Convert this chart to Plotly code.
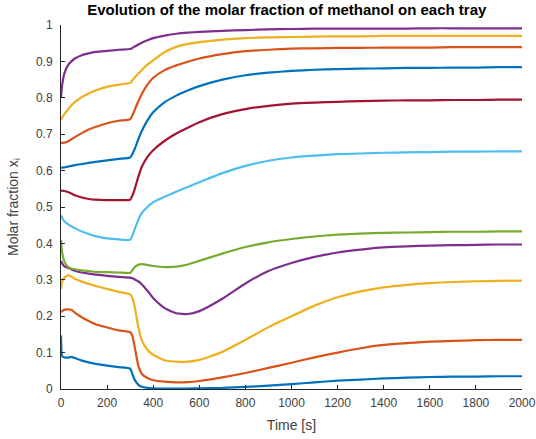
import plotly.graph_objects as go

times = [0, 5, 15, 30, 45, 60, 90, 120, 150, 200, 250, 300, 310, 320, 335, 350, 375, 400, 450, 500,
         550, 600, 700, 800, 900, 1000, 1100, 1200, 1300, 1400, 1500, 1600, 1700, 1800, 1900, 2000]

tray1 = [0.147, 0.09, 0.087, 0.086, 0.088, 0.085, 0.078, 0.073, 0.069, 0.064, 0.06, 0.056, 0.04, 0.025, 0.012,
         0.006, 0.003, 0.002, 0.001, 0.001, 0.001, 0.002, 0.003, 0.006, 0.009, 0.0135,
         0.018, 0.023, 0.026, 0.029, 0.031, 0.033, 0.034, 0.034, 0.035, 0.035]
tray2 = [0.211, 0.214, 0.218, 0.219, 0.218, 0.21, 0.197, 0.187, 0.178, 0.169, 0.161, 0.156, 0.145, 0.115, 0.065,
         0.042, 0.03, 0.024, 0.02, 0.018, 0.019, 0.022, 0.032, 0.044, 0.058, 0.072,
         0.087, 0.1, 0.112, 0.121, 0.126, 0.13, 0.132, 0.134, 0.135, 0.135]
tray3 = [0.275, 0.295, 0.306, 0.312, 0.309, 0.303, 0.295, 0.289, 0.283, 0.275, 0.267, 0.26, 0.25, 0.225, 0.172,
         0.135, 0.108, 0.094, 0.079, 0.075, 0.075, 0.08, 0.102, 0.135, 0.17, 0.2,
         0.229, 0.252, 0.268, 0.279, 0.286, 0.291, 0.294, 0.296, 0.297, 0.298]
tray4 = [0.352, 0.345, 0.337, 0.333, 0.329, 0.325, 0.32, 0.317, 0.314, 0.311, 0.308, 0.306, 0.304, 0.301, 0.296,
         0.288, 0.27, 0.25, 0.222, 0.208, 0.206, 0.214, 0.248, 0.29, 0.324, 0.346,
         0.363, 0.375, 0.383, 0.389, 0.392, 0.394, 0.395, 0.396, 0.397, 0.397]
tray5 = [0.41, 0.375, 0.35, 0.336, 0.331, 0.329, 0.326, 0.324, 0.322, 0.321, 0.32, 0.319, 0.327, 0.335, 0.341,
         0.343, 0.341, 0.338, 0.335, 0.336, 0.342, 0.352, 0.372, 0.39, 0.403, 0.412,
         0.419, 0.424, 0.427, 0.429, 0.43, 0.431, 0.432, 0.432, 0.433, 0.433]
tray6 = [0.477, 0.47, 0.461, 0.453, 0.447, 0.442, 0.433, 0.426, 0.42, 0.414, 0.411, 0.41, 0.422, 0.44, 0.464,
         0.483, 0.5, 0.513, 0.528, 0.542, 0.555, 0.568, 0.593, 0.613, 0.627, 0.636,
         0.641, 0.645, 0.647, 0.649, 0.65, 0.651, 0.652, 0.652, 0.653, 0.653]
tray7 = [0.545, 0.545, 0.544, 0.541, 0.537, 0.532, 0.526, 0.522, 0.52, 0.519, 0.519, 0.52, 0.532, 0.55, 0.582,
         0.61, 0.638, 0.656, 0.682, 0.702, 0.718, 0.733, 0.755, 0.769, 0.778, 0.784,
         0.787, 0.789, 0.791, 0.792, 0.793, 0.793, 0.794, 0.794, 0.795, 0.795]
tray8 = [0.607, 0.608, 0.609, 0.611, 0.613, 0.615, 0.618, 0.621, 0.624, 0.628, 0.632, 0.636, 0.646, 0.66, 0.685,
         0.708, 0.738, 0.76, 0.788, 0.806, 0.82, 0.832, 0.85, 0.862, 0.869, 0.874,
         0.877, 0.879, 0.88, 0.881, 0.882, 0.882, 0.883, 0.883, 0.884, 0.884]
tray9 = [0.675, 0.676, 0.677, 0.68, 0.686, 0.692, 0.703, 0.713, 0.72, 0.73, 0.737, 0.741, 0.752, 0.767, 0.79,
         0.81, 0.836, 0.855, 0.876, 0.889, 0.899, 0.908, 0.92, 0.928, 0.932, 0.935,
         0.936, 0.937, 0.937, 0.938, 0.938, 0.938, 0.939, 0.939, 0.939, 0.939]
tray10 = [0.739, 0.745, 0.755, 0.768, 0.779, 0.788, 0.802, 0.812, 0.82, 0.83, 0.836, 0.841, 0.848, 0.856, 0.866,
          0.876, 0.891, 0.903, 0.926, 0.94, 0.948, 0.953, 0.96, 0.964, 0.966, 0.967,
          0.968, 0.969, 0.969, 0.97, 0.97, 0.97, 0.97, 0.97, 0.97, 0.97]
tray11 = [0.80, 0.835, 0.868, 0.889, 0.90, 0.908, 0.917, 0.922, 0.926, 0.929, 0.932, 0.934, 0.937, 0.941, 0.946,
          0.951, 0.958, 0.964, 0.971, 0.976, 0.979, 0.981, 0.984, 0.986, 0.988, 0.989,
          0.99, 0.99, 0.99, 0.99, 0.99, 0.991, 0.991, 0.991, 0.991, 0.991]

series = [tray1, tray2, tray3, tray4, tray5, tray6, tray7, tray8, tray9, tray10, tray11]
colors = ["#0072BD", "#D95319", "#EDB120", "#7E2F8E", "#77AC30", "#4DBEEE", "#A2142F"]

xticks = list(range(0, 2001, 200))
yticks = [0, 0.1, 0.2, 0.3, 0.4, 0.5, 0.6, 0.7, 0.8, 0.9, 1]
yticklabels = ["0", "0.1", "0.2", "0.3", "0.4", "0.5", "0.6", "0.7", "0.8", "0.9", "1"]

fig = go.Figure()
for i, s in enumerate(series):
    fig.add_trace(go.Scatter(x=times, y=s, mode="lines",
                             line=dict(color=colors[i % len(colors)], width=2.2, shape="spline", smoothing=0.5),
                             showlegend=False, hoverinfo="skip", cliponaxis=False))

axcol = "#262626"
fig.update_layout(
    width=536, height=439,
    margin=dict(l=61, r=14, t=25, b=50),
    paper_bgcolor="white", plot_bgcolor="white",
    font=dict(family="Liberation Sans, Arial, sans-serif", size=12, color="#404040"),
    title=dict(text="<b>Evolution of the molar fraction of methanol on each tray</b>",
               x=0.535, xanchor="center", y=0.99, yanchor="top", font=dict(size=15, color="black")),
    xaxis=dict(range=[0, 2000], tickvals=xticks, ticks="inside", ticklen=4, tickcolor=axcol,
               showline=True, linecolor=axcol, linewidth=1, showgrid=False, zeroline=False, mirror=False,
               automargin=False, ticklabelstandoff=3,
               title=dict(text="Time [s]", font=dict(size=14, color="#404040"), standoff=10)),
    yaxis=dict(range=[0, 1], tickvals=yticks, ticktext=yticklabels, ticks="inside", ticklen=4, tickcolor=axcol,
               showline=True, linecolor=axcol, linewidth=1, showgrid=False, zeroline=False, mirror=False,
               automargin=False, ticklabelstandoff=5,
               title=dict(text="Molar fraction x<sub>i</sub>", font=dict(size=14, color="#404040"), standoff=14)),
)

fig.write_html("out.html")
